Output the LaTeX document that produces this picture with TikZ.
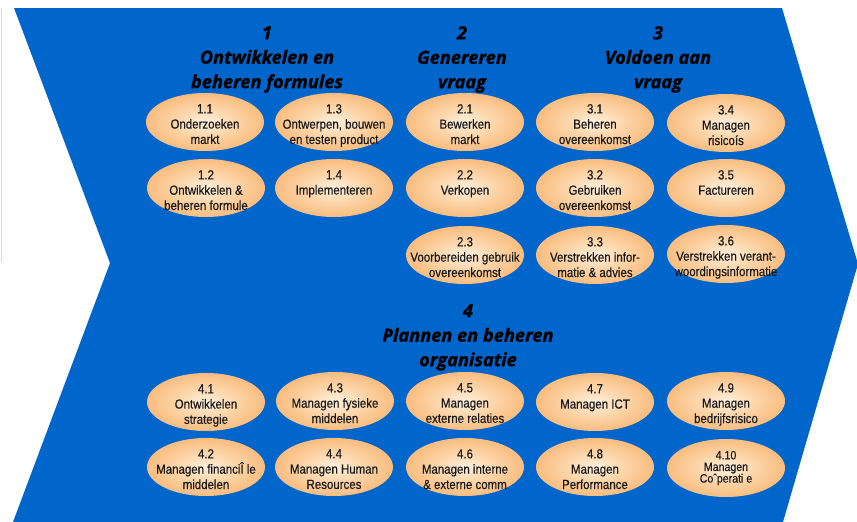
\documentclass[tikz,border=0pt]{standalone}
\usepackage{fontspec}
\setmainfont{Liberation Sans}
\newfontfamily\boxfont[FakeStretch=0.87,FakeBold=0.3]{Liberation Sans}
\newfontfamily\titlefont[BoldItalicFeatures={FakeBold=1.3}]{Open Sans}
\usetikzlibrary{shapes.geometric}
\definecolor{chevblue}{RGB}{0,102,204}
\definecolor{faintline}{RGB}{205,218,236}
\pgfdeclareradialshading{blobshade}{\pgfpoint{0bp}{0bp}}{rgb(0bp)=(1,0.94,0.87); rgb(12bp)=(0.99,0.84,0.67); rgb(30bp)=(0.975,0.70,0.43); rgb(50bp)=(0.96,0.62,0.31)}
\tikzset{
  blob/.style={ellipse, minimum width=118pt, minimum height=58pt, inner sep=0pt, shade, shading=blobshade},
  btext/.style={font=\boxfont\fontsize{13.2}{15.3}\selectfont, align=center, inner sep=0pt, text=black!90, anchor=north},
  smalltext/.style={font=\boxfont\fontsize{12.2}{11.6}\selectfont, align=center, inner sep=0pt, text=black!90, anchor=center},
  ttl/.style={font=\titlefont\bfseries\itshape\fontsize{18.2}{24.5}\selectfont, align=center, inner sep=0pt, anchor=north, text=black}
}
\newcommand\proc[3]{%
  \node[blob] (#1) at (#2) {};
  \node[btext] (#1t) at ([yshift=18pt]#1.center) {#3};}
\begin{document}
\begin{tikzpicture}[x=1pt,y=-1pt]
\useasboundingbox (0,0) rectangle (857,522);
\fill[white] (0,0) rectangle (857,522);
% chevron
\fill[chevblue] (14,8) -- (782,8) -- (858,264) -- (783,522) -- (13,522) -- (110,263) -- cycle;
\draw[faintline, line width=0.8pt] (1,8) -- (1,262);
% titles
\node[ttl] (t1) at (267,26) {1\\Ontwikkelen en\\beheren formules};
\node[ttl] (t2) at (462,26) {2\\Genereren\\vraag};
\node[ttl] (t3) at (658,26) {3\\Voldoen aan\\vraag};
\node[ttl] (t4) at (468,304) {4\\Plannen en beheren\\organisatie};
% process group 1
\proc{p11}{205,122}{1.1\\Onderzoeken\\markt}
\proc{p13}{334,122}{1.3\\Ontwerpen, bouwen\\en testen product}
\proc{p12}{206,188}{1.2\\Ontwikkelen \&\\beheren formule}
\proc{p14}{334,188}{1.4\\Implementeren}
% process group 2
\proc{p21}{465,122}{2.1\\Bewerken\\markt}
\proc{p22}{465,188}{2.2\\Verkopen}
\proc{p23}{465,255}{2.3\\Voorbereiden gebruik\\overeenkomst}
% process group 3
\proc{p31}{595,122}{3.1\\Beheren\\overeenkomst}
\proc{p32}{595,188}{3.2\\Gebruiken\\overeenkomst}
\proc{p33}{595,255}{3.3\\Verstrekken infor-\\matie \& advies}
\proc{p34}{726,123}{3.4\\Managen\\risicoís}
\proc{p35}{726,188}{3.5\\Factureren}
\proc{p36}{726,254}{3.6\\Verstrekken verant-\\woordingsinformatie}
% process group 4
\proc{p41}{206,402}{4.1\\Ontwikkelen\\strategie}
\proc{p43}{335,401}{4.3\\Managen fysieke\\middelen}
\proc{p45}{465,401}{4.5\\Managen\\externe relaties}
\proc{p47}{595,402}{4.7\\Managen ICT}
\proc{p49}{726,401}{4.9\\Managen\\bedrijfsrisico}
\proc{p42}{206,467}{4.2\\Managen financiÎ le\\middelen}
\proc{p44}{334,467}{4.4\\Managen Human\\Resources}
\proc{p46}{465,467}{4.6\\Managen interne\\\& externe comm}
\proc{p48}{595,467}{4.8\\Managen\\Performance}
\node[blob] (p410) at (726,468) {};
\node[smalltext] (p410t) at ([yshift=0pt]p410.center) {4.10\\Managen\\Coˆperati e};
\end{tikzpicture}
\end{document}
